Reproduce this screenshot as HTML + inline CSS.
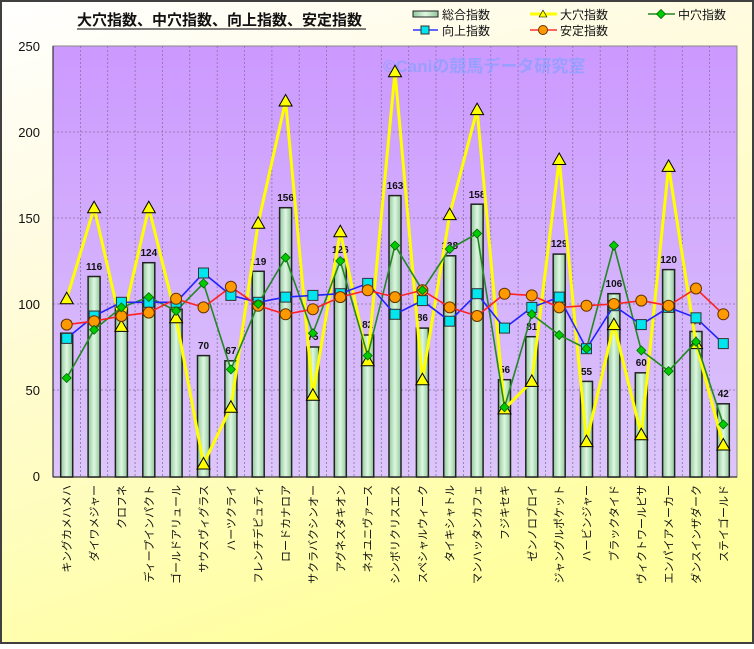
<!DOCTYPE html>
<html><head><meta charset="utf-8"><style>
html,body{margin:0;padding:0;}
body{width:754px;height:644px;overflow:hidden;}
svg text{font-family:"Liberation Sans","Noto Sans CJK JP",sans-serif;}
</style></head><body>
<svg width="754" height="644" viewBox="0 0 754 644" xmlns="http://www.w3.org/2000/svg">
<defs>
<linearGradient id="bg" x1="0" y1="0" x2="0.4" y2="1">
<stop offset="0" stop-color="#ffffff"/><stop offset="0.35" stop-color="#fffbe0"/><stop offset="1" stop-color="#ffffa0"/>
</linearGradient>
<linearGradient id="pl" x1="0" y1="0" x2="0" y2="1">
<stop offset="0" stop-color="#cc99ff"/><stop offset="1" stop-color="#dcc6fa"/>
</linearGradient>
<linearGradient id="bar" x1="0" y1="0" x2="1" y2="0">
<stop offset="0" stop-color="#8fc89a"/><stop offset="0.5" stop-color="#dff7e2"/><stop offset="1" stop-color="#8fc89a"/>
</linearGradient>
<path id="tri" d="M0,-6.5 L6.5,5 L-6.5,5 Z" fill="#ffff00" stroke="#000" stroke-width="1"/>
<path id="dia" d="M0,-4.5 L4.5,0 L0,4.5 L-4.5,0 Z" fill="#00cc00" stroke="#006600" stroke-width="0.8"/>
<rect id="sq" x="-5" y="-5" width="10" height="10" fill="#00e5ee" stroke="#333" stroke-width="1"/>
<circle id="ci" r="5.5" fill="#ff9900" stroke="#663300" stroke-width="1"/>
</defs>
<rect x="0" y="0" width="754" height="644" fill="url(#bg)"/>
<rect x="1" y="1" width="752" height="642" fill="none" stroke="#404040" stroke-width="2"/>
<text x="77" y="25" font-size="15" font-weight="bold" fill="#111">大穴指数、中穴指数、向上指数、安定指数</text>
<line x1="77" y1="29" x2="366" y2="29" stroke="#333" stroke-width="1.2"/>
<!-- legend -->
<rect x="413" y="11" width="25" height="6" fill="url(#bar)" stroke="#222"/>
<text x="442" y="19" font-size="12" fill="#111">総合指数</text>
<line x1="530" y1="14" x2="557" y2="14" stroke="#ffff00" stroke-width="3"/><use href="#tri" x="543" y="14" transform="translate(543,14) scale(0.6) translate(-543,-14)"/>
<text x="560" y="19" font-size="12" fill="#111">大穴指数</text>
<line x1="648" y1="14" x2="675" y2="14" stroke="#228822" stroke-width="1.5"/><use href="#dia" x="661" y="14"/>
<text x="678" y="19" font-size="12" fill="#111">中穴指数</text>
<line x1="413" y1="30" x2="438" y2="30" stroke="#3333ff" stroke-width="1.5"/><rect x="421" y="26" width="8" height="8" fill="#00e5ee" stroke="#333"/>
<text x="442" y="35" font-size="12" fill="#111">向上指数</text>
<line x1="530" y1="30" x2="557" y2="30" stroke="#ff3333" stroke-width="1.5"/><circle cx="543" cy="30" r="4.5" fill="#ff9900" stroke="#663300"/>
<text x="560" y="35" font-size="12" fill="#111">安定指数</text>
<!-- plot -->
<rect x="53" y="46" width="684" height="431" fill="url(#pl)" stroke="#888" stroke-width="1"/>
<g stroke="#8a70a8" stroke-width="0.8" stroke-dasharray="2,2">
<line x1="53" y1="132" x2="737" y2="132"/><line x1="53" y1="218" x2="737" y2="218"/><line x1="53" y1="304" x2="737" y2="304"/><line x1="53" y1="390" x2="737" y2="390"/>
<line x1="80.4" y1="46" x2="80.4" y2="477"/><line x1="107.7" y1="46" x2="107.7" y2="477"/><line x1="135.1" y1="46" x2="135.1" y2="477"/><line x1="162.4" y1="46" x2="162.4" y2="477"/><line x1="189.8" y1="46" x2="189.8" y2="477"/><line x1="217.2" y1="46" x2="217.2" y2="477"/><line x1="244.5" y1="46" x2="244.5" y2="477"/><line x1="271.9" y1="46" x2="271.9" y2="477"/><line x1="299.2" y1="46" x2="299.2" y2="477"/><line x1="326.6" y1="46" x2="326.6" y2="477"/><line x1="354" y1="46" x2="354" y2="477"/><line x1="381.3" y1="46" x2="381.3" y2="477"/><line x1="408.7" y1="46" x2="408.7" y2="477"/><line x1="436" y1="46" x2="436" y2="477"/><line x1="463.4" y1="46" x2="463.4" y2="477"/><line x1="490.8" y1="46" x2="490.8" y2="477"/><line x1="518.1" y1="46" x2="518.1" y2="477"/><line x1="545.5" y1="46" x2="545.5" y2="477"/><line x1="572.8" y1="46" x2="572.8" y2="477"/><line x1="600.2" y1="46" x2="600.2" y2="477"/><line x1="627.6" y1="46" x2="627.6" y2="477"/><line x1="654.9" y1="46" x2="654.9" y2="477"/><line x1="682.3" y1="46" x2="682.3" y2="477"/><line x1="709.6" y1="46" x2="709.6" y2="477"/>
</g>
<line x1="53" y1="46" x2="53" y2="477" stroke="#333" stroke-width="1.2"/>
<line x1="53" y1="477" x2="737" y2="477" stroke="#333" stroke-width="1.2"/>
<g font-size="13" fill="#111" text-anchor="end">
<text x="40" y="51">250</text><text x="40" y="137">200</text><text x="40" y="223">150</text><text x="40" y="309">100</text><text x="40" y="395">50</text><text x="40" y="481">0</text>
</g>
<text x="383" y="72" font-size="17" font-weight="bold" fill="#88a0ff" fill-opacity="0.75">©Caniの競馬データ研究室</text>
<!-- bars -->
<g fill="url(#bar)" stroke="#222" stroke-width="1.5">
<rect x="60.7" y="333.2" width="12" height="143.8"/><rect x="88.1" y="276.5" width="12" height="200.5"/><rect x="115.4" y="300.6" width="12" height="176.4"/><rect x="142.8" y="262.7" width="12" height="214.3"/><rect x="170.1" y="309.2" width="12" height="167.8"/><rect x="197.5" y="355.6" width="12" height="121.4"/><rect x="224.9" y="360.8" width="12" height="116.2"/><rect x="252.2" y="271.3" width="12" height="205.7"/><rect x="279.6" y="207.7" width="12" height="269.3"/><rect x="306.9" y="347" width="12" height="130"/><rect x="334.3" y="259.3" width="12" height="217.7"/><rect x="361.7" y="335" width="12" height="142"/><rect x="389" y="195.6" width="12" height="281.4"/><rect x="416.4" y="328.1" width="12" height="148.9"/><rect x="443.7" y="255.8" width="12" height="221.2"/><rect x="471.1" y="204.2" width="12" height="272.8"/><rect x="498.5" y="379.7" width="12" height="97.3"/><rect x="525.8" y="336.7" width="12" height="140.3"/><rect x="553.2" y="254.1" width="12" height="222.9"/><rect x="580.5" y="381.4" width="12" height="95.6"/><rect x="607.9" y="293.7" width="12" height="183.3"/><rect x="635.3" y="372.8" width="12" height="104.2"/><rect x="662.6" y="269.6" width="12" height="207.4"/><rect x="690" y="331.5" width="12" height="145.5"/><rect x="717.3" y="403.8" width="12" height="73.2"/>
</g>
<g font-size="10" font-weight="bold" fill="#111" text-anchor="middle">
<text x="66.7" y="327">88</text><text x="94.1" y="270">116</text><text x="121.4" y="305">94</text><text x="148.8" y="256">124</text><text x="176.1" y="302">97</text><text x="203.5" y="349">70</text><text x="230.9" y="354">67</text><text x="258.2" y="265">119</text><text x="285.6" y="201">156</text><text x="312.9" y="340">75</text><text x="340.3" y="253">126</text><text x="367.7" y="328">82</text><text x="395" y="189">163</text><text x="422.4" y="321">86</text><text x="449.7" y="249">128</text><text x="477.1" y="198">158</text><text x="504.5" y="373">56</text><text x="531.8" y="330">81</text><text x="559.2" y="247">129</text><text x="586.5" y="375">55</text><text x="613.9" y="287">106</text><text x="641.3" y="366">60</text><text x="668.6" y="263">120</text><text x="696" y="325">84</text><text x="723.3" y="397">42</text>
</g>
<!-- yellow -->
<polyline fill="none" stroke="#ffff00" stroke-width="3" points="66.7,298.8 94.1,207.7 121.4,326.4 148.8,207.7 176.1,317.8 203.5,464 230.9,407.2 258.2,223.2 285.6,101 312.9,395.2 340.3,231.8 367.7,360.8 395,71.8 422.4,379.7 449.7,214.6 477.1,109.6 504.5,408.9 531.8,381.4 559.2,159.5 586.5,441.6 613.9,324.6 641.3,434.7 668.6,166.4 696,343.6 723.3,445"/>
<g>
<use href="#tri" x="66.7" y="298.8"/><use href="#tri" x="94.1" y="207.7"/><use href="#tri" x="121.4" y="326.4"/><use href="#tri" x="148.8" y="207.7"/><use href="#tri" x="176.1" y="317.8"/><use href="#tri" x="203.5" y="464"/><use href="#tri" x="230.9" y="407.2"/><use href="#tri" x="258.2" y="223.2"/><use href="#tri" x="285.6" y="101"/><use href="#tri" x="312.9" y="395.2"/><use href="#tri" x="340.3" y="231.8"/><use href="#tri" x="367.7" y="360.8"/><use href="#tri" x="395" y="71.8"/><use href="#tri" x="422.4" y="379.7"/><use href="#tri" x="449.7" y="214.6"/><use href="#tri" x="477.1" y="109.6"/><use href="#tri" x="504.5" y="408.9"/><use href="#tri" x="531.8" y="381.4"/><use href="#tri" x="559.2" y="159.5"/><use href="#tri" x="586.5" y="441.6"/><use href="#tri" x="613.9" y="324.6"/><use href="#tri" x="641.3" y="434.7"/><use href="#tri" x="668.6" y="166.4"/><use href="#tri" x="696" y="343.6"/><use href="#tri" x="723.3" y="445"/>
</g>
<!-- green -->
<polyline fill="none" stroke="#228822" stroke-width="1.6" points="66.7,378 94.1,329.8 121.4,307.4 148.8,297.1 176.1,310.9 203.5,283.4 230.9,369.4 258.2,304 285.6,257.6 312.9,333.2 340.3,261 367.7,355.6 395,245.5 422.4,290.2 449.7,249 477.1,233.5 504.5,407.2 531.8,314.3 559.2,335 586.5,348.7 613.9,245.5 641.3,350.4 668.6,371.1 696,341.8 723.3,424.4"/>
<!-- blue -->
<polyline fill="none" stroke="#2222ff" stroke-width="1.6" points="66.7,338.4 94.1,316 121.4,302.3 148.8,302.3 176.1,302.3 203.5,273 230.9,295.4 258.2,302.3 285.6,297.1 312.9,295.4 340.3,293.7 367.7,283.4 395,314.3 422.4,300.6 449.7,321.2 477.1,293.7 504.5,328.1 531.8,307.4 559.2,297.1 586.5,348.7 613.9,305.7 641.3,324.6 668.6,307.4 696,317.8 723.3,343.6"/>
<!-- red -->
<polyline fill="none" stroke="#ff2222" stroke-width="1.6" points="66.7,324.6 94.1,321.2 121.4,316 148.8,312.6 176.1,298.8 203.5,307.4 230.9,286.8 258.2,305.7 285.6,314.3 312.9,309.2 340.3,297.1 367.7,290.2 395,297.1 422.4,290.2 449.7,307.4 477.1,316 504.5,293.7 531.8,295.4 559.2,307.4 586.5,305.7 613.9,304 641.3,300.6 668.6,305.7 696,288.5 723.3,314.3"/>
<g>
<use href="#sq" x="66.7" y="338.4"/><use href="#sq" x="94.1" y="316"/><use href="#sq" x="121.4" y="302.3"/><use href="#sq" x="148.8" y="302.3"/><use href="#sq" x="176.1" y="302.3"/><use href="#sq" x="203.5" y="273"/><use href="#sq" x="230.9" y="295.4"/><use href="#sq" x="258.2" y="302.3"/><use href="#sq" x="285.6" y="297.1"/><use href="#sq" x="312.9" y="295.4"/><use href="#sq" x="340.3" y="293.7"/><use href="#sq" x="367.7" y="283.4"/><use href="#sq" x="395" y="314.3"/><use href="#sq" x="422.4" y="300.6"/><use href="#sq" x="449.7" y="321.2"/><use href="#sq" x="477.1" y="293.7"/><use href="#sq" x="504.5" y="328.1"/><use href="#sq" x="531.8" y="307.4"/><use href="#sq" x="559.2" y="297.1"/><use href="#sq" x="586.5" y="348.7"/><use href="#sq" x="613.9" y="305.7"/><use href="#sq" x="641.3" y="324.6"/><use href="#sq" x="668.6" y="307.4"/><use href="#sq" x="696" y="317.8"/><use href="#sq" x="723.3" y="343.6"/>
</g>
<g>
<use href="#ci" x="66.7" y="324.6"/><use href="#ci" x="94.1" y="321.2"/><use href="#ci" x="121.4" y="316"/><use href="#ci" x="148.8" y="312.6"/><use href="#ci" x="176.1" y="298.8"/><use href="#ci" x="203.5" y="307.4"/><use href="#ci" x="230.9" y="286.8"/><use href="#ci" x="258.2" y="305.7"/><use href="#ci" x="285.6" y="314.3"/><use href="#ci" x="312.9" y="309.2"/><use href="#ci" x="340.3" y="297.1"/><use href="#ci" x="367.7" y="290.2"/><use href="#ci" x="395" y="297.1"/><use href="#ci" x="422.4" y="290.2"/><use href="#ci" x="449.7" y="307.4"/><use href="#ci" x="477.1" y="316"/><use href="#ci" x="504.5" y="293.7"/><use href="#ci" x="531.8" y="295.4"/><use href="#ci" x="559.2" y="307.4"/><use href="#ci" x="586.5" y="305.7"/><use href="#ci" x="613.9" y="304"/><use href="#ci" x="641.3" y="300.6"/><use href="#ci" x="668.6" y="305.7"/><use href="#ci" x="696" y="288.5"/><use href="#ci" x="723.3" y="314.3"/>
</g>
<g>
<use href="#dia" x="66.7" y="378"/><use href="#dia" x="94.1" y="329.8"/><use href="#dia" x="121.4" y="307.4"/><use href="#dia" x="148.8" y="297.1"/><use href="#dia" x="176.1" y="310.9"/><use href="#dia" x="203.5" y="283.4"/><use href="#dia" x="230.9" y="369.4"/><use href="#dia" x="258.2" y="304"/><use href="#dia" x="285.6" y="257.6"/><use href="#dia" x="312.9" y="333.2"/><use href="#dia" x="340.3" y="261"/><use href="#dia" x="367.7" y="355.6"/><use href="#dia" x="395" y="245.5"/><use href="#dia" x="422.4" y="290.2"/><use href="#dia" x="449.7" y="249"/><use href="#dia" x="477.1" y="233.5"/><use href="#dia" x="504.5" y="407.2"/><use href="#dia" x="531.8" y="314.3"/><use href="#dia" x="559.2" y="335"/><use href="#dia" x="586.5" y="348.7"/><use href="#dia" x="613.9" y="245.5"/><use href="#dia" x="641.3" y="350.4"/><use href="#dia" x="668.6" y="371.1"/><use href="#dia" x="696" y="341.8"/><use href="#dia" x="723.3" y="424.4"/>
</g>
<!-- x labels -->
<g font-size="11" fill="#111" text-anchor="end">
<text transform="translate(70.7,485) rotate(-90)">キングカメハメハ</text>
<text transform="translate(98.1,485) rotate(-90)">ダイワメジャー</text>
<text transform="translate(125.4,485) rotate(-90)">クロフネ</text>
<text transform="translate(152.8,485) rotate(-90)">ディープインパクト</text>
<text transform="translate(180.1,485) rotate(-90)">ゴールドアリュール</text>
<text transform="translate(207.5,485) rotate(-90)">サウスヴィグラス</text>
<text transform="translate(234.9,485) rotate(-90)">ハーツクライ</text>
<text transform="translate(262.2,485) rotate(-90)">フレンチデピュティ</text>
<text transform="translate(289.6,485) rotate(-90)">ロードカナロア</text>
<text transform="translate(316.9,485) rotate(-90)">サクラバクシンオー</text>
<text transform="translate(344.3,485) rotate(-90)">アグネスタキオン</text>
<text transform="translate(371.7,485) rotate(-90)">ネオユニヴァース</text>
<text transform="translate(399,485) rotate(-90)">シンボリクリスエス</text>
<text transform="translate(426.4,485) rotate(-90)">スペシャルウィーク</text>
<text transform="translate(453.7,485) rotate(-90)">タイキシャトル</text>
<text transform="translate(481.1,485) rotate(-90)">マンハッタンカフェ</text>
<text transform="translate(508.5,485) rotate(-90)">フジキセキ</text>
<text transform="translate(535.8,485) rotate(-90)">ゼンノロブロイ</text>
<text transform="translate(563.2,485) rotate(-90)">ジャングルポケット</text>
<text transform="translate(590.5,485) rotate(-90)">ハービンジャー</text>
<text transform="translate(617.9,485) rotate(-90)">ブラックタイド</text>
<text transform="translate(645.3,485) rotate(-90)">ヴィクトワールピサ</text>
<text transform="translate(672.6,485) rotate(-90)">エンパイアメーカー</text>
<text transform="translate(700,485) rotate(-90)">ダンスインザダーク</text>
<text transform="translate(727.3,485) rotate(-90)">ステイゴールド</text>
</g>
</svg>
</body></html>
